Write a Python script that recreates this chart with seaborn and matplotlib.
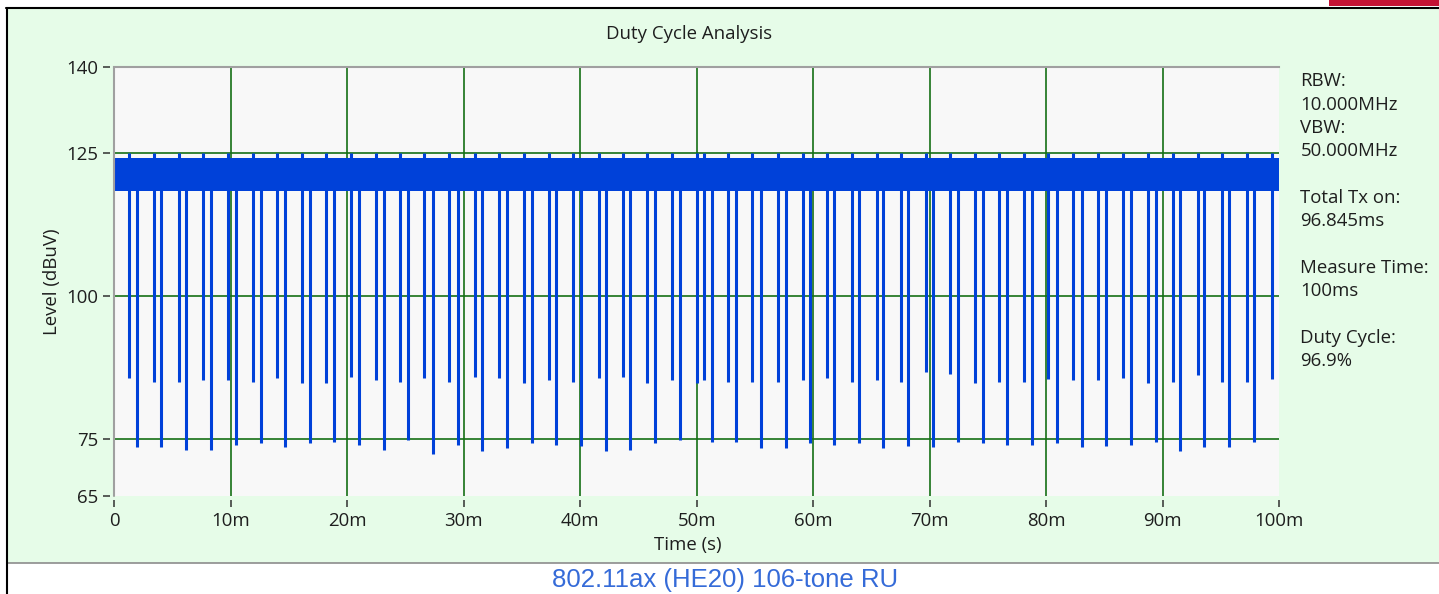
import matplotlib
matplotlib.use("Agg")
import matplotlib.pyplot as plt
import numpy as np
import pandas as pd
import seaborn as sns
from matplotlib.patches import Rectangle
from matplotlib.lines import Line2D

# ---- measurement data -------------------------------------------------------
# Short Tx gaps: time (ms) and the level the trace falls to (dBuV)
short_gap_ms = [1.29, 3.41, 5.56, 7.64, 9.76, 11.88, 14.00, 16.09, 18.18, 20.30,
                22.44, 24.53, 26.62, 28.76, 30.97, 33.06, 35.20, 37.32, 39.41,
                41.59, 43.65, 45.76, 47.86, 50.00, 50.63, 52.67, 54.78, 56.96,
                59.11, 61.17, 63.31, 65.46, 67.55, 69.67, 71.75, 73.90, 75.99,
                78.11, 80.19, 82.34, 84.43, 86.63, 88.78, 90.87, 93.02, 95.13,
                97.23, 99.37]
short_gap_level = [85.6, 85.0, 85.0, 85.3, 85.3, 85.0, 85.6, 84.7, 84.7, 85.8,
                   85.3, 85.0, 85.6, 85.0, 85.8, 85.6, 84.7, 85.3, 85.0, 85.6,
                   85.8, 84.7, 85.3, 84.7, 85.3, 85.0, 85.0, 85.0, 85.3, 85.6,
                   85.0, 85.3, 85.0, 86.7, 86.4, 84.7, 85.0, 85.0, 85.4, 85.3,
                   85.3, 85.6, 84.7, 85.0, 86.1, 85.0, 85.0, 85.4]

# Long Tx gaps: time (ms) and the level the trace falls to (dBuV)
long_gap_ms = [1.92, 4.04, 6.16, 8.28, 10.42, 12.57, 14.66, 16.80, 18.89, 21.01,
               23.16, 25.19, 27.39, 29.48, 31.60, 33.69, 35.84, 37.92, 40.05,
               42.19, 44.28, 46.42, 48.57, 51.29, 53.38, 55.50, 57.65, 59.73,
               61.82, 63.94, 66.03, 68.17, 70.32, 72.47, 74.56, 76.67, 78.82,
               80.91, 83.06, 85.15, 87.29, 89.41, 91.50, 93.59, 95.73, 97.85]
long_gap_level = [73.6, 73.6, 73.0, 73.0, 73.9, 74.2, 73.5, 74.2, 74.5, 73.9,
                  73.0, 74.8, 72.3, 73.9, 72.9, 73.3, 74.2, 73.9, 73.7, 72.9,
                  73.0, 74.3, 74.8, 74.5, 74.5, 73.3, 73.3, 74.2, 73.9, 74.2,
                  73.3, 73.7, 73.5, 74.5, 74.3, 73.9, 73.9, 74.2, 73.6, 73.7,
                  73.9, 74.5, 72.9, 73.6, 73.6, 74.5]

# Level of the transmitting signal (dBuV)
band_high = 124.0
band_low = 118.2
burst_peak = 124.9

x_ticks_ms = [0, 10, 20, 30, 40, 50, 60, 70, 80, 90, 100]
x_tick_labels = ["0", "10m", "20m", "30m", "40m", "50m", "60m", "70m", "80m", "90m", "100m"]
y_ticks = [65, 75, 100, 125, 140]

info_lines = ["RBW:", "10.000MHz", "VBW:", "50.000MHz", "",
              "Total Tx on:", "96.845ms", "",
              "Measure Time:", "100ms", "",
              "Duty Cycle:", "96.9%"]
caption = "802.11ax (HE20) 106-tone RU"

# ---- style -------------------------------------------------------------------
sns.set_style("white")
plt.rcParams["font.family"] = ["Open Sans", "DejaVu Sans"]
TRACE = "#0041D9"
GRID = "#167016"
PANEL = "#E6FCE8"
PLOT_BG = "#F8F8F8"
TXT = "#1E1E1E"
FS = 13.4

W, H = 1439, 594
def fx(px):
    return px / W
def fy(py):
    return 1 - py / H

fig = plt.figure(figsize=(W / 100, H / 100), dpi=100, facecolor="white")

# window panel and frame (behind the axes)
fig.patches.append(Rectangle((fx(8), fy(562.6)), 1 - fx(8), fy(9) - fy(562.6),
                             transform=fig.transFigure, facecolor=PANEL,
                             edgecolor="none", zorder=-10))
fig.lines.append(Line2D([fx(8), 1], [fy(563.4)] * 2, transform=fig.transFigure,
                        color="#8C8C8C", lw=1.2, zorder=-9))
fig.lines.append(Line2D([fx(6), 1], [fy(8.3)] * 2, transform=fig.transFigure,
                        color="black", lw=1.5, zorder=-9))
fig.lines.append(Line2D([fx(6.8)] * 2, [0, fy(8.3)], transform=fig.transFigure,
                        color="black", lw=1.5, zorder=-9))
fig.patches.append(Rectangle((fx(1329), fy(6.2)), 1 - fx(1329), fy(0) - fy(6.2),
                             transform=fig.transFigure, facecolor="#C41234",
                             edgecolor="none", zorder=-8))
fig.text(fx(1386), fy(3.0), "V E R I T A S", color="white", fontsize=13,
         fontweight="bold", ha="center", va="bottom", zorder=-7,
         family=["Liberation Sans", "DejaVu Sans"])

# plot area
ax = fig.add_axes([fx(114.3), fy(496), fx(1279) - fx(114.3), fy(66.7) - fy(496)])
ax.set_zorder(1)
ax.set_facecolor(PLOT_BG)

# grid
for v in x_ticks_ms[1:-1]:
    ax.axvline(v, color=GRID, lw=1.2, zorder=1)
for h in y_ticks:
    if y_ticks[0] < h < y_ticks[-1]:
        ax.axhline(h, color=GRID, lw=1.2, zorder=1)

# transmitting band
ax.fill_between([x_ticks_ms[0], x_ticks_ms[-1]], band_low, band_high,
                color=TRACE, lw=0, zorder=3)

# gaps as vertical drops
rows = []
for i, (t, lv) in enumerate(zip(short_gap_ms, short_gap_level)):
    rows.append(("s%d" % i, t, burst_peak))
    rows.append(("s%d" % i, t, lv))
for i, (t, lv) in enumerate(zip(long_gap_ms, long_gap_level)):
    rows.append(("l%d" % i, t, band_high))
    rows.append(("l%d" % i, t, lv))
gaps = pd.DataFrame(rows, columns=["gap", "time_ms", "level"])
sns.lineplot(data=gaps, x="time_ms", y="level", units="gap", estimator=None,
             sort=False, color=TRACE, lw=2.2, ax=ax, legend=False,
             solid_capstyle="butt", zorder=4)

ax.set_xlim(x_ticks_ms[0], x_ticks_ms[-1])
ax.set_ylim(y_ticks[0], y_ticks[-1])
ax.set_xticks(x_ticks_ms)
ax.set_xticklabels(x_tick_labels)
ax.set_yticks(y_ticks)
ax.set_yticklabels([str(v) for v in y_ticks])

for side in ["right", "bottom", "left"]:
    ax.spines[side].set_visible(False)
ax.spines["left"].set_position(("outward", 3))
ax.spines["bottom"].set_position(("outward", 3))
ax.spines["top"].set_color("#A0A0A0")
ax.spines["top"].set_linewidth(1.5)
ax.axvline(x_ticks_ms[0], color="#A0A0A0", lw=1.5, zorder=5, clip_on=False)

ax.tick_params(axis="both", direction="out", length=5.2, width=1.1,
               color="#303030", labelsize=FS, labelcolor=TXT)
ax.tick_params(axis="x", pad=3.5, bottom=True)
ax.tick_params(axis="y", pad=3.6, left=True)

ax.set_xlabel("Time (s)", fontsize=FS, color=TXT)
ax.set_ylabel("Level (dBuV)", fontsize=FS, color=TXT)
ax.xaxis.label.set_va("center")
ax.yaxis.label.set_va("center")
ax.xaxis.set_label_coords((688 - 114.3) / 1164.7, (496 - 545) / 429.3)
ax.yaxis.set_label_coords((52 - 114.3) / 1164.7, (496 - 282) / 429.3)

ax.set_title("Duty Cycle Analysis", fontsize=FS, color=TXT, va="center",
             y=(496 - 42) / 429.3)
ax.title.set_x((689 - 114.3) / 1164.7)

# measurement summary on the right
for i, line in enumerate(info_lines):
    if line:
        fig.text(fx(1300.5), fy(86.3 + i * 23.33), line, fontsize=FS,
                 color=TXT, ha="left", va="baseline")

fig.text(fx(725), fy(580.5), caption, fontsize=18.5, color="#356BD8",
         ha="center", va="center", family=["Liberation Sans", "DejaVu Sans"])

fig.savefig("out.png", dpi=100, facecolor="white")
